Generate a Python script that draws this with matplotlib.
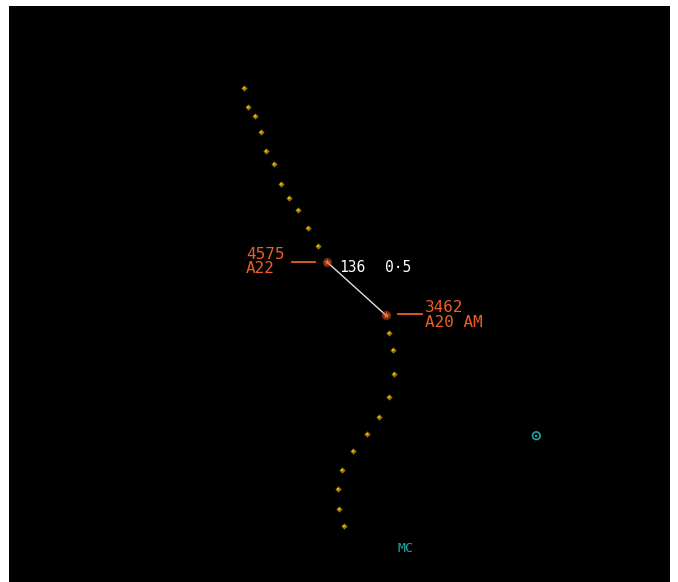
import matplotlib
matplotlib.use('Agg')
import matplotlib.pyplot as plt
import numpy as np

# Radar screen, coordinates in screen pixels (x right, y down)
# track history of A22 (upper trail)
trail_a22_x = [243.7, 248.3, 255.3, 261.0, 266.0, 274.0, 281.0, 289.3, 297.7, 308.3, 317.7]
trail_a22_y = [87.7, 106.7, 116.0, 132.3, 151.0, 164.0, 184.0, 198.0, 210.0, 227.7, 246.3]

# track history of A20 (lower trail)
trail_a20_x = [389.3, 392.7, 394.0, 389.3, 378.7, 367.0, 352.7, 342.3, 337.7, 338.7, 343.7]
trail_a20_y = [333.3, 349.7, 374.3, 396.7, 416.7, 434.3, 450.7, 469.7, 488.7, 508.7, 526.0]

# current targets
target_names = ['A22', 'A20 AM']
target_codes = ['4575', '3462']
target_x = [326.7, 385.7]
target_y = [261.7, 315.0]

# separation readout
sep_bearing = '136'
sep_range = '0·5'

# fixes / beacons
fix_x = [536.3]
fix_y = [435.7]
fix_label = 'MC'
fix_label_xy = (405.5, 548.0)

ORANGE = '#ec5e26'
GOLD = '#a07800'
CYAN = '#1aa6a6'
MONO = 'DejaVu Sans Mono'

W, H = 678, 582
fig = plt.figure(figsize=(W / 100, H / 100), dpi=100, facecolor='white')
ax = fig.add_axes([9 / W, 0, 661 / W, 576 / H])
ax.set_xlim(9, 670)
ax.set_ylim(582, 6)
ax.set_axis_off()
# screen background (axis off hides the axes patch)
ax.add_patch(plt.Rectangle((9, 6), 661, 576, color='black', zorder=0))

# history dots
for tx, ty in [(trail_a22_x, trail_a22_y), (trail_a20_x, trail_a20_y)]:
    ax.scatter(tx, ty, s=10, marker='D', color=GOLD, linewidths=0, zorder=2)
    ax.scatter(tx, ty, s=1.2, marker='s', color='#e0b020', linewidths=0, zorder=3)

# separation line between the two targets
ax.plot(target_x, target_y, color='#e0e0e0', lw=1.0, zorder=3)

# target symbols
ax.scatter(target_x, target_y, s=45, marker='o', color=ORANGE, alpha=0.45,
           linewidths=0, zorder=4)
ax.scatter(target_x, target_y, s=28, marker='*', color='#ff6a30', linewidths=0, zorder=5)

# data blocks: A22 on the left, A20 on the right
lx, ly = target_x[0], target_y[0]
ax.plot([lx - 35, lx - 12], [ly, ly], color=ORANGE, lw=1.3)
ax.text(lx - 81, ly - 2.7, target_codes[0], color=ORANGE, fontsize=11.5, family=MONO,
        ha='left', va='baseline')
ax.text(lx - 81, ly + 11.3, target_names[0], color=ORANGE, fontsize=11.5, family=MONO,
        ha='left', va='baseline')

rx, ry = target_x[1], target_y[1]
ax.plot([rx + 12, rx + 36], [ry - 1, ry - 1], color=ORANGE, lw=1.3)
ax.text(rx + 39.3, ry - 3, target_codes[1], color=ORANGE, fontsize=11.5, family=MONO,
        ha='left', va='baseline')
ax.text(rx + 39.3, ry + 12, target_names[1], color=ORANGE, fontsize=11.5, family=MONO,
        ha='left', va='baseline')

# bearing / distance readout
ax.text(339.5, 272, sep_bearing, color='white', fontsize=10.5, family=MONO,
        ha='left', va='baseline')
ax.text(384.5, 272, sep_range, color='white', fontsize=10.5, family=MONO,
        ha='left', va='baseline')

# beacon
ax.scatter(fix_x, fix_y, s=30, marker='o', facecolors='none', edgecolors=CYAN,
           linewidths=1.2, zorder=3)
ax.scatter(fix_x, fix_y, s=4, marker='s', color=CYAN, linewidths=0, zorder=3)
ax.text(fix_label_xy[0], fix_label_xy[1], fix_label, color=CYAN, fontsize=9.5,
        family=MONO, ha='center', va='center')

fig.savefig('out.png', dpi=100, facecolor='white')
